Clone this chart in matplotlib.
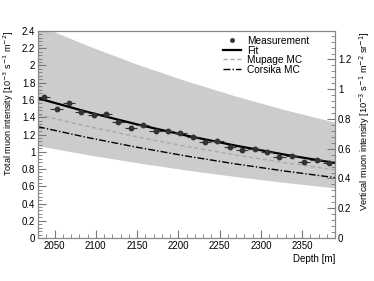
import numpy as np
import matplotlib
matplotlib.use('Agg')
import matplotlib.pyplot as plt
from matplotlib.ticker import MultipleLocator, FormatStrFormatter
from matplotlib.lines import Line2D

plt.rcParams['font.family'] = ['Liberation Sans', 'DejaVu Sans']

# measured total muon intensity per 15 m depth bin
depth = [2037.5, 2052.5, 2067.5, 2082.5, 2097.5, 2112.5, 2127.5, 2142.5,
         2157.5, 2172.5, 2187.5, 2202.5, 2217.5, 2232.5, 2247.5, 2262.5,
         2277.5, 2292.5, 2307.5, 2322.5, 2337.5, 2352.5, 2367.5, 2382.5]
intensity = [1.63, 1.49, 1.56, 1.46, 1.43, 1.44, 1.34, 1.28,
             1.31, 1.24, 1.24, 1.22, 1.17, 1.11, 1.12, 1.06,
             1.02, 1.03, 1.00, 0.935, 0.95, 0.885, 0.905, 0.865]
intensity_err = [0.02] * len(depth)
bin_half = [7.5] * len(depth)

curve_depth = [2030, 2090, 2150, 2210, 2270, 2330, 2390]
fit = [1.62, 1.461, 1.317, 1.187, 1.070, 0.965, 0.870]
mupage = [1.43, 1.295, 1.173, 1.062, 0.962, 0.872, 0.79]
corsika = [1.29, 1.165, 1.052, 0.950, 0.858, 0.775, 0.70]
band_hi = [2.47, 2.231, 2.015, 1.820, 1.644, 1.485, 1.342]
band_lo = [1.07, 0.966, 0.873, 0.788, 0.712, 0.643, 0.581]

# vertical intensity axis is total intensity scaled down
vert_scale = 1.725

fig = plt.figure(figsize=(3.74, 2.81), dpi=100)
ax = fig.add_axes([0.1016, 0.153, 0.7944, 0.7367])

ax.fill_between(curve_depth, band_lo, band_hi, color='#cccccc', lw=0, zorder=1)
ax.plot(curve_depth, mupage, color='#aaaaaa', lw=1.0, ls=(0, (3, 2)), zorder=2)
ax.plot(curve_depth, corsika, color='black', lw=1.0, ls=(0, (5, 1.5, 1, 1.5)), zorder=2)
ax.plot(curve_depth, fit, color='black', lw=1.6, zorder=3)
ax.errorbar(depth, intensity, xerr=bin_half, yerr=intensity_err, fmt='o',
            color='#333333', ms=3.2, elinewidth=0.8, capsize=0, zorder=4)

ax.set_xlim(2030, 2390)
ax.set_ylim(0, 2.4)
ax.xaxis.set_major_locator(MultipleLocator(50))
ax.xaxis.set_minor_locator(MultipleLocator(10))
ax.yaxis.set_major_locator(MultipleLocator(0.2))
ax.yaxis.set_minor_locator(MultipleLocator(0.04))
ax.yaxis.set_major_formatter(FormatStrFormatter('%g'))

ax2 = ax.twinx()
ax2.set_ylim(0, 2.4 / vert_scale)
ax2.yaxis.set_major_locator(MultipleLocator(0.2))
ax2.yaxis.set_minor_locator(MultipleLocator(0.04))
ax2.yaxis.set_major_formatter(FormatStrFormatter('%g'))

for a in (ax, ax2):
    for s in a.spines.values():
        s.set_color('#888888')
        s.set_linewidth(0.8)
    a.tick_params(which='both', direction='in', color='#777777', labelsize=7, pad=2)
    a.tick_params(which='major', length=6, width=0.8)
    a.tick_params(which='minor', length=3, width=0.6)
ax.tick_params(axis='x', which='both', top=False)
ax.tick_params(axis='y', which='both', right=False)

ax.set_xlabel('Depth [m]', loc='right', fontsize=7, labelpad=2)
ax.set_ylabel('Total muon intensity [10$^{-3}$ s$^{-1}$ m$^{-2}$]', loc='top', fontsize=6.5, labelpad=4)
ax2.set_ylabel('Vertical muon intensity [10$^{-3}$ s$^{-1}$ m$^{-2}$ sr$^{-1}$]', loc='top', fontsize=6.7, labelpad=4)

handles = [Line2D([], [], marker='o', ls='none', color='#333333', ms=2.5),
           Line2D([], [], color='black', lw=1.6),
           Line2D([], [], color='#aaaaaa', lw=1.0, ls=(0, (3, 2))),
           Line2D([], [], color='black', lw=1.0, ls=(0, (5, 1.5, 1, 1.5)))]
labels = ['Measurement', 'Fit', 'Mupage MC', 'Corsika MC']
ax.legend(handles, labels, loc='upper left', bbox_to_anchor=(0.6, 1.01),
          frameon=False, fontsize=7.3, handlelength=1.7, handletextpad=0.6,
          labelspacing=-0.05, borderpad=0.2)

fig.savefig('out.png', dpi=100)
